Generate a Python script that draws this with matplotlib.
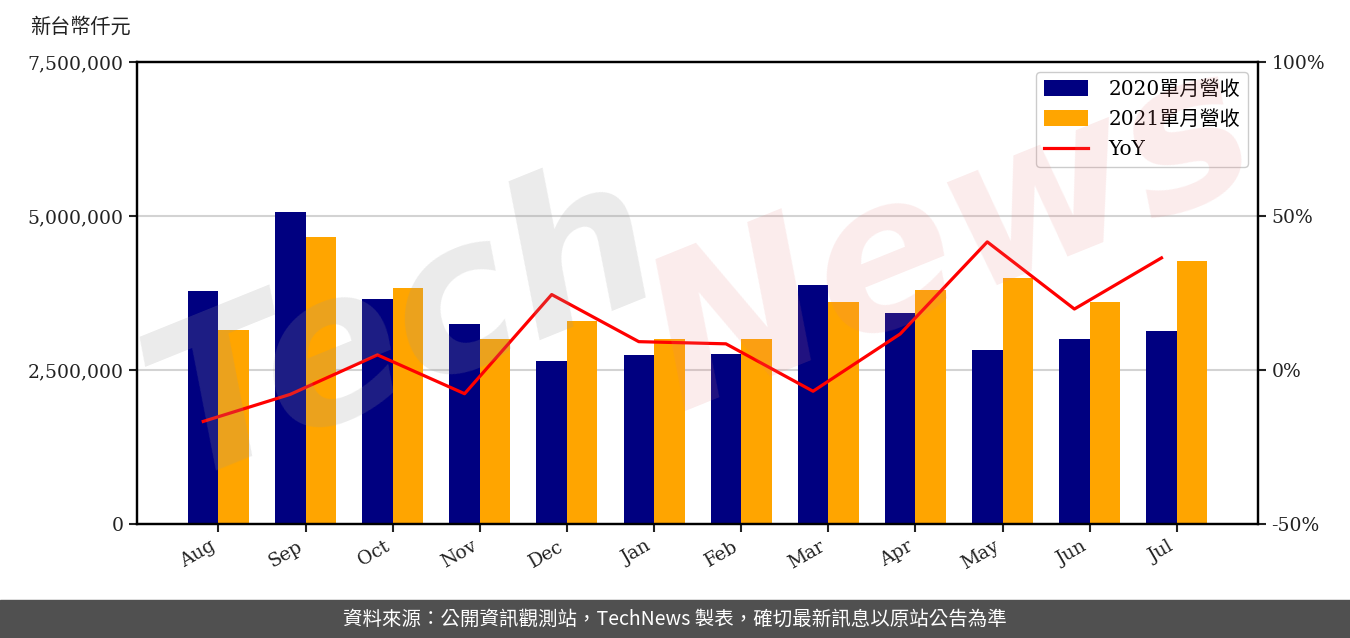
import matplotlib
matplotlib.use('Agg')
import matplotlib.pyplot as plt
import matplotlib.ticker as mticker
import numpy as np

plt.rcParams['font.family'] = ['DejaVu Serif', 'Noto Sans CJK TC', 'DejaVu Sans']

# data (thousand NTD)
months = ['Aug', 'Sep', 'Oct', 'Nov', 'Dec', 'Jan', 'Feb', 'Mar', 'Apr', 'May', 'Jun', 'Jul']
rev_2020 = [3780000, 5060000, 3650000, 3250000, 2650000, 2740000, 2760000, 3880000, 3430000, 2820000, 3000000, 3130000]
rev_2021 = [3150000, 4660000, 3830000, 3000000, 3300000, 3000000, 3000000, 3600000, 3800000, 3990000, 3600000, 4270000]
yoy = [-16.7, -7.9, 4.9, -7.7, 24.5, 9.2, 8.5, -6.9, 11.7, 41.6, 19.8, 36.4]

fig = plt.figure(figsize=(13.5, 6.38), dpi=100)
ax = fig.add_axes([0.1015, 0.1787, 0.8305, 0.7241])
ax2 = ax.twinx()

x = np.arange(len(months))
w = 0.35
b1 = ax.bar(x - w / 2, rev_2020, w, color='#000080')
b2 = ax.bar(x + w / 2, rev_2021, w, color='#ffa500')
ln, = ax2.plot(x - w / 2, yoy, color='red', lw=2.3)

ax.set_xlim(-0.935, 11.935)
ax.set_ylim(0, 7500000)
ax.set_yticks([0, 2500000, 5000000, 7500000])
ax.yaxis.set_major_formatter(mticker.FuncFormatter(lambda v, p: f'{int(v):,}'))
ax.yaxis.grid(True, color='#d3d3d3', lw=1.5)
ax.set_axisbelow(True)
ax.set_xticks(x)
ax.set_xticklabels(months, rotation=30, ha='right')

ax2.set_ylim(-50, 100)
ax2.set_yticks([-50, 0, 50, 100])
ax2.yaxis.set_major_formatter(mticker.FuncFormatter(lambda v, p: f'{int(v)}%'))

for a in (ax, ax2):
    a.tick_params(labelsize=13.5, width=1.5, length=6, colors='#222222')
    for s in a.spines.values():
        s.set_linewidth(1.6)

ax2.legend([b1, b2, ln], ['2020單月營收', '2021單月營收', 'YoY'], loc='upper right',
           fontsize=14.5, handlelength=2.2, handleheight=0.85, borderpad=0.4,
           labelspacing=0.55, handletextpad=1.0, framealpha=1)

fig.text(0.022, 0.957, '新台幣仟元', fontsize=14.5, family=['Noto Sans CJK TC'], color='#222222', va='center')

# watermark
fig.text(0.09, 0.25, 'Tech', fontsize=150, color='#999999', alpha=0.2, rotation=22,
         fontstyle='italic', fontweight='bold', family='DejaVu Sans', zorder=10)
fig.text(0.46, 0.36, 'News', fontsize=150, color='#e88080', alpha=0.15, rotation=22,
         fontstyle='italic', fontweight='bold', family='DejaVu Sans', zorder=10)

# footer
fig.patches.append(plt.Rectangle((0, 0), 1, 38 / 638, transform=fig.transFigure,
                                 color='#505050', zorder=0))
fig.text(0.5, 19 / 638, '資料來源：公開資訊觀測站，TechNews 製表，確切最新訊息以原站公告為準',
         color='white', fontsize=14, ha='center', va='center',
         family=['Noto Sans CJK TC', 'DejaVu Sans'])

fig.savefig('out.png', dpi=100)
